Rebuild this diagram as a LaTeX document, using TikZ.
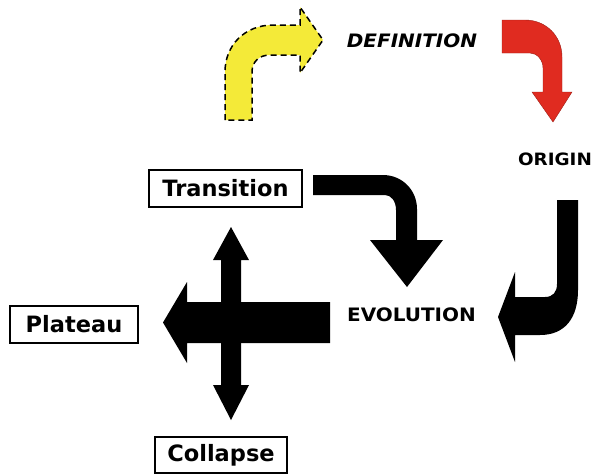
\documentclass[tikz,border=0pt]{standalone}
\usepackage{fontspec}
\setmainfont{DejaVu Sans}
\definecolor{defyellow}{HTML}{F4EA38}
\definecolor{origred}{HTML}{E02B20}
\newcommand{\widen}[1]{\scalebox{1.08}[1]{#1}}
\begin{document}
\begin{tikzpicture}
            [x = 1pt, y = -1pt,
             termbox/.style = {draw, line width = 2pt, inner sep = 0pt, minimum height = 37pt,
                               font = \fontsize{22.5}{22.5}\selectfont\bfseries},
             stage/.style = {inner sep = 0pt, font = \fontsize{18.5}{18.5}\selectfont\bfseries},
             blockarrow/.style = {fill = black}]
            \useasboundingbox (0,0) rectangle (602,475);
            % labels
            \node[stage, font = \fontsize{18.5}{18.5}\selectfont\bfseries\itshape] (definition) at (412,41) {\widen{DEFINITION}};
            \node[stage, font = \fontsize{17}{17}\selectfont\bfseries] (origin) at (555,159) {\widen{ORIGIN}};
            \node[stage] (evolution) at (411.5,315) {\widen{EVOLUTION}};
            \node[termbox, minimum width = 153pt] (transition) at (225.5,188.5) {Transition};
            \node[termbox, minimum width = 128pt] (plateau) at (74,324) {Plateau};
            \node[termbox, minimum width = 132pt, minimum height = 36pt] (collapse) at (221,455) {Collapse};
            % yellow and red arrows
            \filldraw[fill = defyellow, draw = black, line width = 1.5pt, dash pattern = on 6pt off 4pt]
                (225,120) -- (225,72) .. controls (225,45) and (245,25) .. (273,25) -- (300,25)
                -- (300,7) -- (323,40) -- (300,73) -- (300,55) -- (270,55)
                .. controls (259,55) and (252,62) .. (252,72) -- (252,120) -- cycle;
            \filldraw[fill = origred, draw = origred!70!black, line width = 0.4pt]
                (502,20) -- (525,20) .. controls (546,20) and (562,36) .. (562,57) -- (562,92)
                -- (572,92) -- (553,122) -- (532,92) -- (543,92) -- (543,68)
                .. controls (543,60) and (537,53) .. (530,53) -- (502,53) -- cycle;
            % black arrows
            \fill[blockarrow]
                (313,175) -- (383,175) .. controls (402,175) and (417,190) .. (417,209) -- (417,240)
                -- (443,240) -- (407,287) -- (370,240) -- (396,240) -- (396,210)
                .. controls (396,201) and (391,195) .. (385,195) -- (313,195) -- cycle;
            \fill[blockarrow]
                (557,200) -- (578,200) -- (578,290) .. controls (578,318) and (565,335) .. (540,335)
                -- (515,335) -- (515,362) -- (498,317) -- (515,272) -- (515,297) -- (545,297)
                .. controls (553,297) and (557,292) .. (557,284) -- cycle;
            \fill[blockarrow]
                (330,302) -- (187,302) -- (187,282) -- (163,322.5) -- (187,363) -- (187,343) -- (330,343) -- cycle;
            \fill[blockarrow]
                (221,260) -- (213,260) -- (231,227) -- (249,260) -- (241,260) -- (241,385)
                -- (249,385) -- (231,420) -- (213,385) -- (221,385) -- cycle;
        \end{tikzpicture}
\end{document}
